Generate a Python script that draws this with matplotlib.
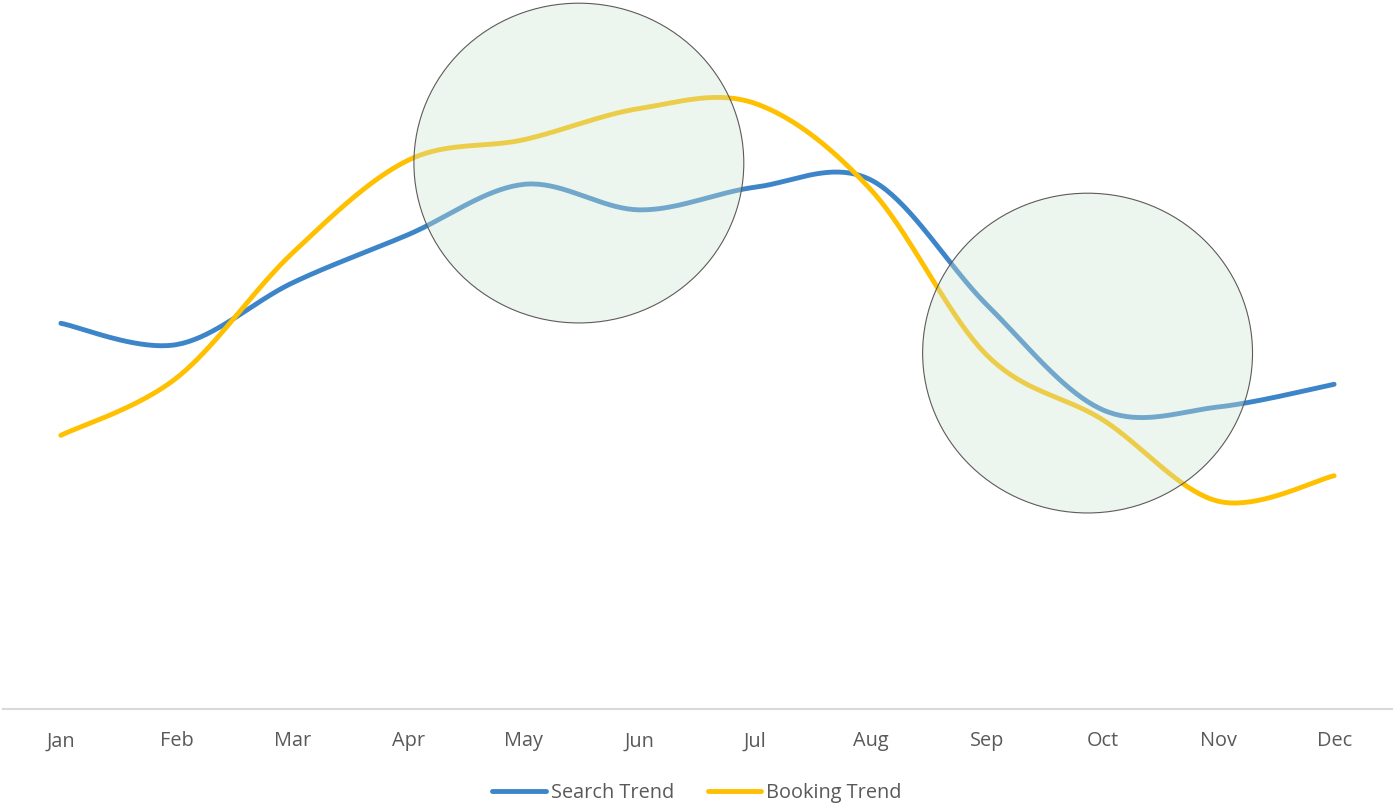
import numpy as np
import matplotlib.pyplot as plt
from matplotlib.patches import Ellipse

months = ["Jan", "Feb", "Mar", "Apr", "May", "Jun", "Jul", "Aug", "Sep", "Oct", "Nov", "Dec"]
search_trend = [54.4, 51.4, 60.1, 66.9, 74.0, 70.4, 73.6, 74.6, 57.0, 42.2, 42.6, 45.8]
booking_trend = [38.6, 46.7, 64.3, 77.4, 80.3, 84.7, 85.4, 73.2, 49.9, 40.8, 29.3, 32.9]

# highlight circles: (x centre, y centre, width, height) in data units
highlights = [(4.475, 77.0, 2.85, 45.1), (8.87, 50.2, 2.85, 45.1)]

plt.rcParams['font.family'] = ['Open Sans', 'DejaVu Sans']


def smooth(xs, ys, n=40):
    # Excel-like smoothed line (Catmull-Rom bezier through every point)
    pts = np.column_stack([xs, ys]).astype(float)
    ext = np.vstack([pts[0], pts, pts[-1]])
    out = []
    t = np.linspace(0, 1, n)[:, None]
    for i in range(1, len(ext) - 2):
        p0, p3 = ext[i], ext[i + 1]
        p1 = p0 + (ext[i + 1] - ext[i - 1]) / 6
        p2 = p3 - (ext[i + 2] - ext[i]) / 6
        seg = (1 - t) ** 3 * p0 + 3 * (1 - t) ** 2 * t * p1 + 3 * (1 - t) * t ** 2 * p2 + t ** 3 * p3
        out.append(seg if i == 1 else seg[1:])
    out = np.vstack(out)
    return out[:, 0], out[:, 1]


fig = plt.figure(figsize=(13.94, 8.06), dpi=100)
ax = fig.add_axes([3 / 1394, 97 / 806, 1389 / 1394, 709 / 806])

x = np.arange(len(months))
sx, sy = smooth(x, search_trend)
bx, by = smooth(x, booking_trend)
ax.plot(sx, sy, color="#3D85C9", lw=3.5, solid_capstyle='round', label="Search Trend", zorder=2)
ax.plot(bx, by, color="#FFC000", lw=3.5, solid_capstyle='round', label="Booking Trend", zorder=2)

for cx, cy, w, h in highlights:
    ax.add_patch(Ellipse((cx, cy), w, h, facecolor=(205 / 255, 230 / 255, 208 / 255, 0.36),
                         edgecolor="#5E5A5A", lw=0.8, zorder=3))

ax.set_xlim(-0.5, 11.5)
ax.set_ylim(0, 100)
ax.set_xticks(x)
ax.set_xticklabels(months, fontsize=14.3, color="#595959")
ax.tick_params(axis='x', length=0, pad=16)
ax.set_yticks([])
for side in ["left", "right", "top"]:
    ax.spines[side].set_visible(False)
ax.spines["bottom"].set_color("#D9D9D9")
ax.spines["bottom"].set_linewidth(1.5)

leg = fig.legend(loc='center', bbox_to_anchor=(0.5, 13 / 806), ncol=2, frameon=False,
                 fontsize=14.3, handlelength=2.7, handletextpad=0.25, columnspacing=1.7)
for t in leg.get_texts():
    t.set_color("#595959")

fig.savefig("out.png", dpi=100)
